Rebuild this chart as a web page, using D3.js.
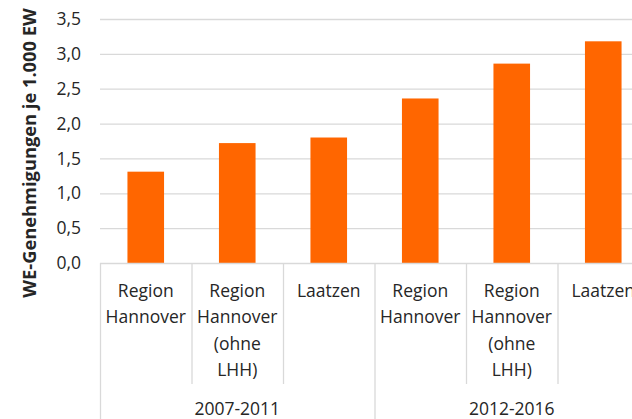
<!DOCTYPE html>
<html>
<head>
<meta charset="utf-8">
<script src="https://cdn.jsdelivr.net/npm/d3@7/dist/d3.min.js"></script>
<style>
  html, body { margin: 0; padding: 0; background: #fff; overflow: hidden; }
  svg { display: block; }
  text { font-family: "Open Sans", Lato, sans-serif; fill: #262626; }
</style>
</head>
<body>
<svg id="chart" width="632" height="419"></svg>
<script>
// ---- data ----
const categories = ["Region Hannover", "Region Hannover (ohne LHH)", "Laatzen",
                    "Region Hannover", "Region Hannover (ohne LHH)", "Laatzen"];
const categoryLines = [
  ["Region", "Hannover"],
  ["Region", "Hannover", "(ohne", "LHH)"],
  ["Laatzen"],
  ["Region", "Hannover"],
  ["Region", "Hannover", "(ohne", "LHH)"],
  ["Laatzen"]
];
const groups = ["2007-2011", "2012-2016"];
const groupOf = [0, 0, 0, 1, 1, 1];
const values = [1.31, 1.72, 1.80, 2.36, 2.86, 3.18];
const yTicks = [0, 0.5, 1.0, 1.5, 2.0, 2.5, 3.0, 3.5];
const yTitle = "WE-Genehmigungen je 1.000 EW";

(function () {
// ---- layout ----
const svg = d3.select("#chart");
const mLeft = 100, mRight = 649, mTop = 19, mBottom = 263;
const idx = d3.range(categories.length);
const fs = "17.5px";

const x = d3.scaleBand().domain(idx).range([mLeft, mRight])
  .paddingInner(0.6).paddingOuter(0.3);
const step = x.step();
const catLeft = i => mLeft + i * step;

const y = d3.scaleLinear().domain([0, 3.5]).range([mBottom, mTop]);

const fmt = d => d3.format(".1f")(d).replace(".", ",");

// gridlines
svg.append("g").selectAll("line").data(yTicks.filter(d => d > 0)).join("line")
  .attr("x1", mLeft).attr("x2", 640)
  .attr("y1", d => y(d) + 0.5).attr("y2", d => y(d) + 0.5)
  .attr("stroke", "#d9d9d9").attr("stroke-width", 1.3);

// y axis labels
const yAxis = d3.axisLeft(y).tickValues(yTicks).tickFormat(fmt).tickSize(0).tickPadding(0);
const gy = svg.append("g").attr("transform", `translate(${mLeft - 19},0)`).call(yAxis);
gy.select(".domain").remove();
gy.selectAll("text").style("font-size", fs).attr("fill", "#262626")
  .style("font-family", "'Open Sans', Lato, sans-serif");

// bars
svg.append("g").selectAll("rect").data(values).join("rect")
  .attr("x", (d, i) => x(i)).attr("width", x.bandwidth())
  .attr("y", d => y(d)).attr("height", d => y(0) - y(d))
  .attr("fill", "#ff6600");

// baseline
svg.append("line").attr("x1", mLeft).attr("x2", 640)
  .attr("y1", mBottom + 0.5).attr("y2", mBottom + 0.5)
  .attr("stroke", "#d9d9d9").attr("stroke-width", 1.3);

// category separators
const sepG = svg.append("g");
for (let i = 0; i <= categories.length; i++) {
  const isGroupEdge = (i === 0 || i === categories.length || groupOf[i] !== groupOf[i - 1]);
  sepG.append("line")
    .attr("x1", catLeft(i) + 0.5).attr("x2", catLeft(i) + 0.5)
    .attr("y1", mBottom).attr("y2", isGroupEdge ? 419 : 384)
    .attr("stroke", "#d9d9d9").attr("stroke-width", 1.3);
}

// category labels
const catG = svg.append("g");
categoryLines.forEach((lines, i) => {
  const t = catG.append("text")
    .attr("x", x(i) + x.bandwidth() / 2)
    .attr("text-anchor", "middle")
    .style("font-size", fs);
  lines.forEach((ln, k) => {
    t.append("tspan").attr("x", x(i) + x.bandwidth() / 2)
      .attr("y", 297 + k * 26.3).text(ln);
  });
});

// group labels
groups.forEach((g, gi) => {
  const members = idx.filter(i => groupOf[i] === gi);
  const gx0 = catLeft(members[0]), gx1 = catLeft(members[members.length - 1] + 1);
  svg.append("text").attr("x", (gx0 + gx1) / 2).attr("y", 415)
    .attr("text-anchor", "middle").style("font-size", fs).text(g);
});

// y title
svg.append("text")
  .attr("transform", `translate(36,153) rotate(-90)`)
  .attr("text-anchor", "middle")
  .style("font-size", "18.3px").style("font-weight", "bold")
  .text(yTitle);
})();
</script>
</body>
</html>
